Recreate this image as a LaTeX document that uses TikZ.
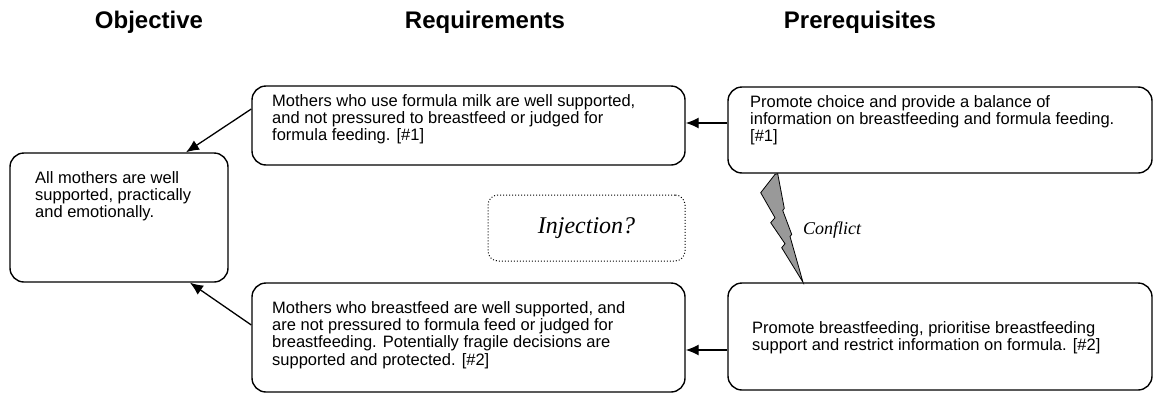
\documentclass[tikz,border=0pt]{standalone}
\usepackage{fontspec}
\setmainfont{Liberation Sans}
\newfontfamily\serifit{Liberation Serif}
\usetikzlibrary{%
    arrows.meta,
    calc,
    positioning
}
\tikzset{headarrow/.style = {-{Latex[length=13pt,width=11pt]}, line width=1.3pt}}
\tikzset{
    box/.style = {draw, line width=1.4pt, rounded corners=14pt, inner sep=0pt},
    boxtext/.style = {anchor=north west, inner sep=0pt, align=left,
        font=\fontsize{16.5}{17.3}\selectfont},
    heading/.style = {font=\fontsize{24}{28}\selectfont\bfseries},
    maybe/.style = {draw, dotted, line width=1pt, rounded corners=10pt},
    bolt/.style = {draw, fill=black!40, line width=0.8pt, line join=miter}
}

\begin{document}
\begin{tikzpicture}[x=1pt,y=-1pt]
    \useasboundingbox (0,0) rectangle (1154,394);

    % column headings
    \node[heading] (hobj) at (149,22) {Objective};
    \node[heading] (hreq) at (485,22) {Requirements};
    \node[heading] (hpre) at (860,22) {Prerequisites};

    % objective
    \node[box, minimum width=218pt, minimum height=129pt] (obj) at (119,217.5) {};
    \node[boxtext] (objtxt) at (35,171) {All mothers are well\\supported, practically\\and emotionally.};

    % requirements
    \node[box, minimum width=433pt, minimum height=79pt] (req1) at (468.5,125.5) {};
    \node[boxtext] (req1txt) at (272,94) {Mothers who use formula milk are well supported,\\and not pressured to breastfeed or judged for\\formula feeding. [\#1]};
    \node[box, minimum width=433pt, minimum height=109pt] (req2) at (468.5,337.5) {};
    \node[boxtext] (req2txt) at (272,301) {Mothers who breastfeed are well supported, and\\are not pressured to formula feed or judged for\\breastfeeding. Potentially fragile decisions are\\supported and protected. [\#2]};

    % prerequisites
    \node[box, minimum width=424pt, minimum height=86pt] (pre1) at (940,130) {};
    \node[boxtext] (pre1txt) at (750,95) {Promote choice and provide a balance of\\information on breastfeeding and formula feeding.\\{[\#1]}};
    \node[box, minimum width=424pt, minimum height=107pt] (pre2) at (940,336.5) {};
    \node[boxtext] (pre2txt) at (752,321) {Promote breastfeeding, prioritise breastfeeding\\support and restrict information on formula. [\#2]};

    % injection
    \node[maybe, minimum width=197pt, minimum height=66pt,
        font=\serifit\itshape\fontsize{24}{28}\selectfont] (inj) at (586.5,228) {Injection?};

    % arrows
    \coordinate (p1out) at ([yshift=7pt]pre1.west);
    \coordinate (p2out) at ([yshift=-13.5pt]pre2.west);
    \draw[headarrow] (p1out) -- (p1out -| req1.east);
    \draw[headarrow] (p2out) -- (p2out -| req2.east);
    \draw[headarrow] ([yshift=16.5pt]req1.west) -- ([xshift=67pt]obj.north);
    \draw[headarrow] ([yshift=12.5pt]req2.west) -- ([xshift=71pt]obj.south);

    % conflict
    \coordinate (boltTop) at ([xshift=-163pt]pre1.south);
    \coordinate (boltBot) at ([xshift=-137pt]pre2.north);
    \begin{scope}[shift={(boltTop)}]
        \draw[bolt] (-2,0.7) -- (0.7,0) -- (7.3,34.7) -- (5.7,36.7) -- (14.7,60.7)
            -- (13,62.7) -- (boltBot) -- (4.7,74) -- (8,70) -- (-6.3,49)
            -- (-2,44) -- (-16.3,19) -- cycle;
    \end{scope}
    \node[font=\serifit\itshape\fontsize{18}{20}\selectfont] (conflict) at (832,230) {Conflict};
\end{tikzpicture}
\end{document}
